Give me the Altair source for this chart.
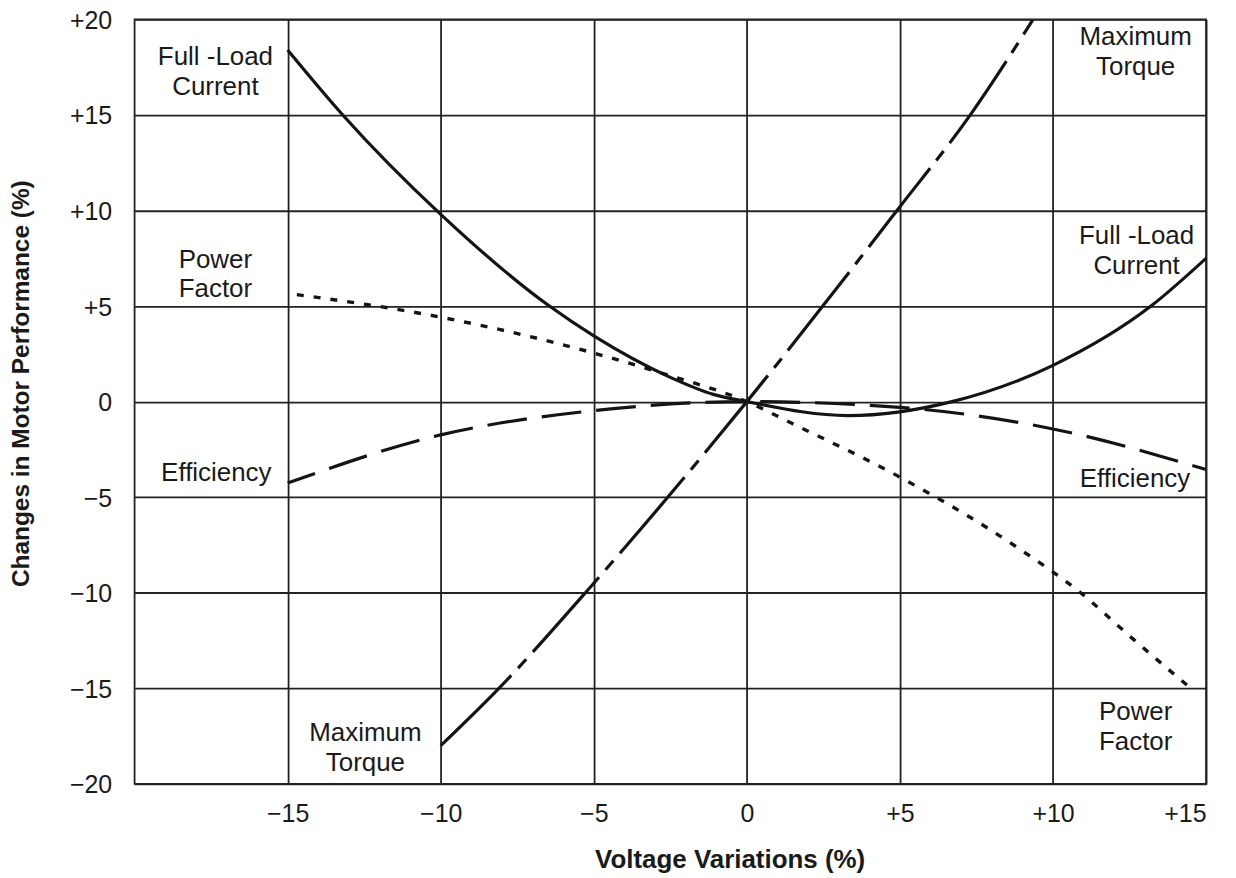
import altair as alt
import pandas as pd

# ---- data ----
# Full-Load Current (solid)
flc_x = [-15, -13.2, -10, -6.45, -5, -2.5, -1.1, 0, 3.3, 6.7, 10, 13.2, 15]
flc_y = [18.4, 15, 9.8, 5, 3.44, 1.27, 0.38, 0, -0.73, 0, 1.9, 5, 7.5]
# Power Factor (dotted)
pf_x = [-14.7, -10, -5, -2.76, 0, 1.5, 5, 8.9, 10.9, 12.6, 14.5]
pf_y = [5.6, 4.42, 2.54, 1.48, 0, -1.16, -3.95, -7.7, -10, -12.4, -15]
# Efficiency (long dashes)
eff_x = [-15, -10, -5, 0, 5, 10, 15]
eff_y = [-4.26, -1.74, -0.47, 0, -0.3, -1.43, -3.55]
# Maximum Torque (dash / short dash)
mt_x = [-10, -8.1, -5, 0, 5, 7.3, 9.35]
mt_y = [-18, -15, -9.5, 0, 10.2, 15, 20]

tick_values = [-15, -10, -5, 0, 5, 10, 15]
ytick_values = [-20, -15, -10, -5, 0, 5, 10, 15, 20]

lab_text = ["Full -Load\nCurrent", "Power\nFactor", "Efficiency", "Maximum\nTorque",
            "Maximum\nTorque", "Full -Load\nCurrent", "Efficiency", "Power\nFactor"]
lab_x = [-17.36, -17.36, -17.33, -12.46, 12.7, 12.73, 12.68, 12.7]
lab_y = [18.04, 7.43, -3.73, -17.34, 19.09, 8.66, -4.04, -16.26]

FONT = "Liberation Sans, Arial, Helvetica, sans-serif"
INK = "#141414"

label_expr = "datum.value > 0 ? '+' + datum.value : (datum.value < 0 ? '\u2212' + abs(datum.value) : '0')"

xscale = alt.Scale(domain=[-20, 15], nice=False, zero=False)
yscale = alt.Scale(domain=[-20, 20], nice=False, zero=False)

xaxis = alt.Axis(values=tick_values, labelExpr=label_expr, grid=True, ticks=False, tickSize=0,
                 domain=False, labelFontSize=25, labelPadding=18, labelColor="#1a1a1a",
                 title="Voltage Variations (%)", titleFontSize=26, titleFontWeight="bold",
                 titleX=597, titleY=84, titleBaseline="alphabetic", titleAlign="center",
                 titleColor="#1a1a1a")
yaxis = alt.Axis(values=ytick_values, labelExpr=label_expr, grid=True, ticks=False, tickSize=0,
                 domain=False, labelFontSize=25, labelPadding=23, labelOffset=1,
                 labelColor="#1a1a1a",
                 title="Changes in Motor Performance (%)", titleFontSize=24.5,
                 titleFontWeight="bold", titleX=-106, titleY=365, titleAngle=-90,
                 titleBaseline="alphabetic", titleAlign="center", titleColor="#1a1a1a")


def series(xs, ys):
    return pd.DataFrame({"x": xs, "y": ys})


def line_layer(df, dash=None, offset=0, width=3.2, axes=False):
    kw = dict(color=INK, strokeWidth=width, interpolate="monotone", clip=True)
    if dash is not None:
        kw["strokeDash"] = dash
        kw["strokeDashOffset"] = offset
    m = alt.Chart(df).mark_line(**kw)
    if axes:
        return m.encode(x=alt.X("x:Q", scale=xscale, axis=xaxis),
                        y=alt.Y("y:Q", scale=yscale, axis=yaxis))
    return m.encode(x=alt.X("x:Q", scale=xscale), y=alt.Y("y:Q", scale=yscale))


flc = line_layer(series(flc_x, flc_y), axes=True)
pf = line_layer(series(pf_x, pf_y), dash=[7, 10], width=3.4)
eff = line_layer(series(eff_x, eff_y), dash=[40, 15], offset=11)
mt = line_layer(series(mt_x, mt_y), dash=[100, 10, 12, 10])

labels_df = pd.DataFrame({"t": lab_text, "x": lab_x, "y": lab_y})
labels = alt.Chart(labels_df).mark_text(
    font=FONT, fontSize=26, color="#1a1a1a", align="center", baseline="middle",
    lineBreak="\n", lineHeight=30
).encode(x=alt.X("x:Q", scale=xscale), y=alt.Y("y:Q", scale=yscale), text="t:N")

chart = alt.layer(flc, pf, eff, mt, labels).properties(
    width=1075, height=767,
    padding={"left": 127, "top": 10, "right": 22, "bottom": 92},
    autosize=alt.AutoSizeParams(type="none"),
    background="white",
).configure_view(stroke="#222222", strokeWidth=1.8).configure_axis(
    gridColor="#222222", gridWidth=1.8, gridOpacity=1, labelFont=FONT, titleFont=FONT
)

chart.save("out.html", embed_options={"renderer": "svg", "actions": False})
